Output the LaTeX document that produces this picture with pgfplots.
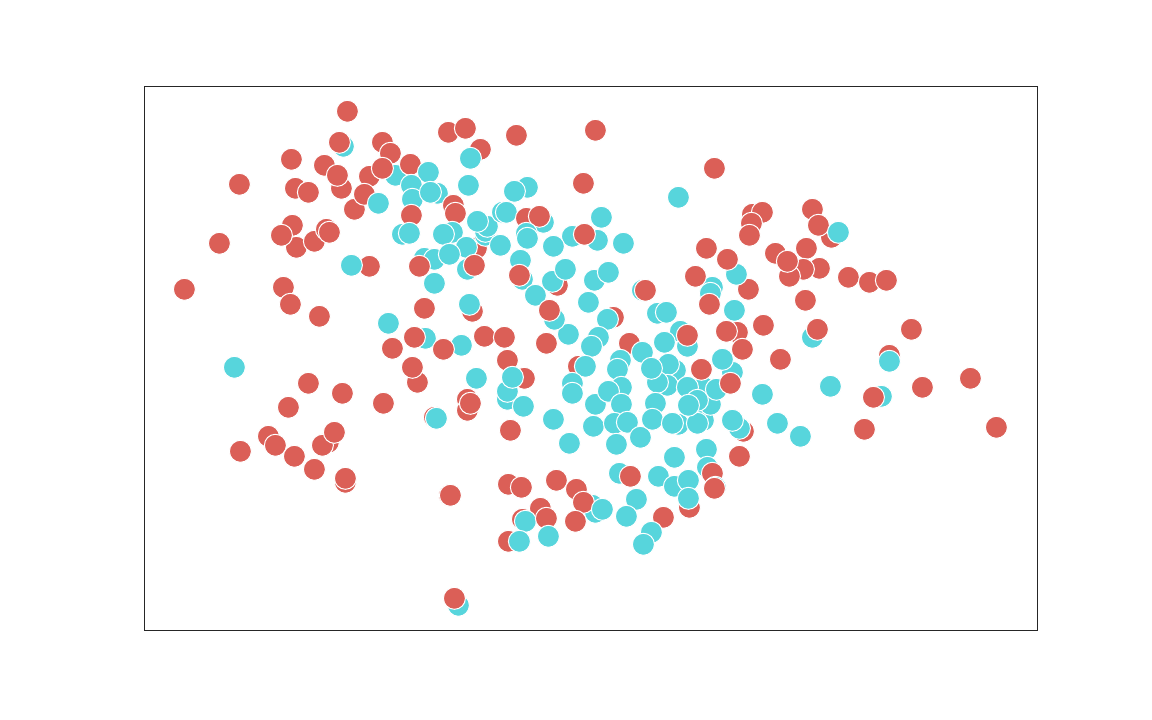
\documentclass[border=0pt]{standalone}
\usepackage{pgfplots}
\pgfplotsset{compat=1.18}
\definecolor{cr}{HTML}{DB5F57}
\definecolor{cc}{HTML}{57D5DC}
\begin{document}
\begin{tikzpicture}
\path[use as bounding box,fill=white] (-108pt,-67.5pt) rectangle (756pt,472.5pt);
\begin{axis}[
  at={(0,0)},anchor=south west,
  scale only axis,width=669.75pt,height=408pt,
  xmin=143.6,xmax=1036.6,ymin=85.7,ymax=629.7,y dir=reverse,
  ticks=none,clip=false,
  axis line style={line width=0.6pt,color=black!85},
]
\addplot[only marks,scatter,scatter src=explicit symbolic,
  scatter/classes={
    r={mark=*,mark size=8.25pt,draw=white,fill=cr,line width=0.75pt},
    c={mark=*,mark size=8.25pt,draw=white,fill=cc,line width=0.75pt}},
  ] table[x=x,y=y,meta=l] {
x y l
347 111 r
343 146 c
339 142 r
382 142 r
390 153 r
291 159 r
324 165 r
341 188 r
337 175 r
239 184 r
295 188 r
308 192 r
369 176 r
354 209 r
364 194 r
378 203 c
395 175 c
382 168 r
410 164 r
428 172 c
411 185 c
437 193 c
412 199 c
430 192 c
411 215 r
402 234 c
409 233 c
296 247 r
292 225 r
281 235 r
314 241 r
326 229 r
329 232 r
219 243 r
369 266 r
351 265 c
424 258 c
434 259 c
434 283 c
419 266 r
184 289 r
283 287 r
290 304 r
319 316 r
448 132 r
465 128 r
480 149 r
470 158 c
516 135 r
595 130 r
468 185 c
527 187 c
514 191 c
583 183 r
453 205 r
455 213 r
452 232 c
443 234 c
476 248 r
466 247 c
449 254 c
485 235 c
485 231 c
487 226 c
477 221 c
500 245 c
502 212 c
506 212 c
526 218 r
543 222 c
539 216 r
526 233 c
527 238 c
601 217 c
572 236 c
597 240 c
584 234 r
623 243 c
553 246 c
520 260 c
522 279 c
519 275 r
557 285 r
552 281 c
565 269 c
594 280 c
608 272 c
535 295 c
588 302 c
642 290 c
645 290 r
467 269 c
474 265 r
424 308 r
472 311 r
469 304 c
388 323 c
392 348 r
425 338 c
414 337 r
461 345 c
443 349 r
484 336 r
504 337 r
507 360 r
417 382 r
412 367 r
383 403 r
476 378 c
524 378 r
507 399 c
507 391 c
512 377 c
523 406 c
467 399 r
467 410 r
470 403 r
434 417 r
436 418 c
510 430 r
553 419 c
569 443 c
546 343 r
568 334 c
554 319 c
549 310 r
613 317 r
607 319 c
598 337 c
591 346 c
578 366 r
585 366 c
572 383 c
572 393 c
595 404 c
593 426 c
629 343 r
642 352 c
620 360 c
617 369 c
621 387 c
608 391 c
621 404 c
614 423 c
627 422 c
616 444 c
640 437 c
657 313 c
666 312 c
680 331 c
687 346 c
687 335 r
664 342 c
675 370 c
668 364 c
667 385 c
657 382 c
651 368 c
655 403 c
652 419 c
678 424 c
672 423 c
703 387 c
687 387 c
701 369 r
703 420 c
697 423 c
710 404 c
697 400 c
688 405 c
716 389 c
732 372 c
722 359 c
730 383 r
762 394 c
743 431 r
739 428 c
732 420 c
777 423 c
800 436 c
674 457 c
739 456 r
763 325 r
737 332 r
726 331 r
742 349 r
780 359 r
712 287 c
710 293 c
709 304 r
734 310 c
748 289 r
736 274 c
695 276 r
508 484 r
521 487 r
556 480 r
576 489 r
540 508 r
592 505 c
595 512 c
583 502 r
602 509 c
575 521 r
522 519 r
525 521 c
546 518 r
508 541 r
519 541 c
548 536 c
619 473 c
630 476 r
658 476 c
706 449 c
707 467 c
712 473 r
715 487 c
714 488 r
674 486 c
688 480 c
689 507 r
688 498 c
636 499 c
626 516 c
663 517 r
651 532 c
643 544 c
714 168 r
678 197 c
752 214 r
762 212 r
751 223 r
749 235 r
812 209 r
831 237 r
818 225 r
838 232 c
706 248 r
727 259 r
775 253 r
806 248 r
819 268 r
803 269 r
789 276 r
787 261 r
848 277 r
869 282 r
886 280 r
805 300 r
812 337 c
817 329 r
911 329 r
889 355 r
889 361 c
922 387 r
970 378 r
996 427 r
864 429 r
881 396 c
873 397 r
830 386 c
234 367 c
308 383 r
342 393 r
288 407 r
268 436 r
275 445 r
240 451 r
294 456 r
328 442 r
322 445 r
334 432 r
314 469 r
345 482 r
345 478 r
449 495 r
450 495 r
458 605 c
454 598 r
};
\end{axis}
\end{tikzpicture}
\end{document}
